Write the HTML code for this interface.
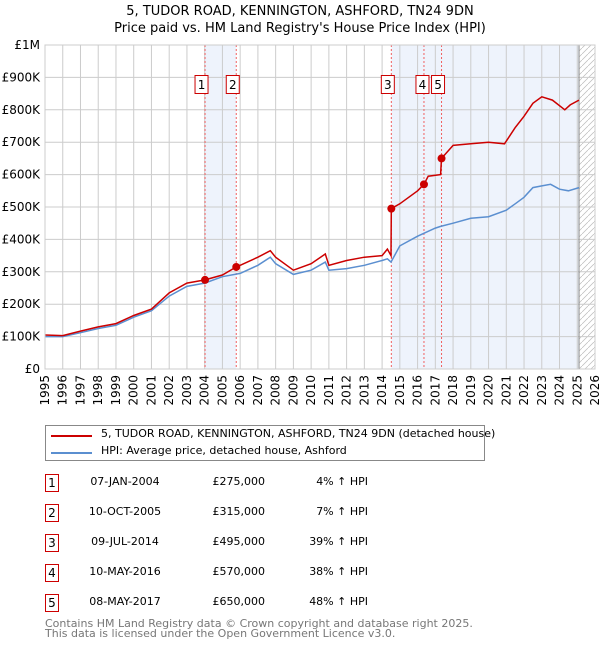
<!DOCTYPE html>
<html><head><meta charset="utf-8"><style>
body{margin:0;background:#fff;font-family:"DejaVu Sans","Liberation Sans",sans-serif;}
#w{position:relative;width:600px;height:650px;overflow:hidden}
.t{position:absolute;font-size:12px;color:#000;white-space:nowrap}
.box{position:absolute;width:14px;height:18px;border:1px solid #c00;box-sizing:border-box;font-size:12px;text-align:center;line-height:16px}
</style></head><body><div id="w">
<div class="t" style="left:0;width:600px;text-align:center;top:4px;font-size:13px">5, TUDOR ROAD, KENNINGTON, ASHFORD, TN24 9DN</div>
<div class="t" style="left:0;width:600px;text-align:center;top:21px;font-size:13px">Price paid vs. HM Land Registry's House Price Index (HPI)</div>
<svg id="c" width="600" height="420" style="position:absolute;left:0;top:0"></svg>
<div style="position:absolute;left:45px;top:425px;width:440px;height:36px;border:1px solid #888;box-sizing:border-box">
<div style="position:absolute;left:5px;top:9px;width:41px;height:2px;background:#c00"></div>
<div class="t" style="left:55px;top:1px;font-size:11px">5, TUDOR ROAD, KENNINGTON, ASHFORD, TN24 9DN (detached house)</div>
<div style="position:absolute;left:5px;top:26px;width:41px;height:2px;background:#5b8fd0"></div>
<div class="t" style="left:55px;top:18px;font-size:11px">HPI: Average price, detached house, Ashford</div>
</div>
<div id="tbl"></div>
<div class="t" style="left:45px;top:619px;color:#777;font-size:11px;line-height:10px">Contains HM Land Registry data © Crown copyright and database right 2025.<br>This data is licensed under the Open Government Licence v3.0.</div>
</div>
<script>
const hpiT=[1995,1996,1997,1998,1999,2000,2001,2002,2003,2004,2005,2006,2007,2007.7,2008,2009,2010,2010.8,2011,2012,2013,2014,2014.3,2014.5,2015,2016,2017,2017.3,2018,2019,2020,2021,2021.5,2022,2022.5,2023,2023.5,2024,2024.5,2025.1];
const hpiV=[100,100,112,125,135,160,180,225,255,265,285,295,320,345,325,292,305,330,305,310,320,335,340,330,380,410,435,440,450,465,470,490,510,530,560,565,570,555,550,560];
const redT=[1995,1996,1997,1998,1999,2000,2001,2002,2003,2004.02,2005,2005.78,2006,2007,2007.7,2008,2009,2010,2010.8,2011,2012,2013,2014,2014.3,2014.5,2014.52,2015,2016,2016.36,2016.6,2017.3,2017.35,2018,2019,2020,2020.9,2021.5,2022,2022.5,2023,2023.6,2024.3,2024.6,2025.1];
const redV=[105,103,117,130,140,165,185,235,265,275,290,315,320,345,365,345,305,325,355,320,335,345,350,370,350,495,510,550,570,595,600,650,690,695,700,695,745,780,820,840,830,800,815,830];
const saleT=[2004.02,2005.78,2014.52,2016.36,2017.35];
const saleV=[275,315,495,570,650];
const saleLbl=["1","2","3","4","5"];
const saleDate=["07-JAN-2004","10-OCT-2005","09-JUL-2014","10-MAY-2016","08-MAY-2017"];
const salePrice=["£275,000","£315,000","£495,000","£570,000","£650,000"];
const saleHpi=["4% ↑ HPI","7% ↑ HPI","39% ↑ HPI","38% ↑ HPI","48% ↑ HPI"];
const yTicks=[0,100,200,300,400,500,600,700,800,900,1000];
const yLbl=["£0","£100K","£200K","£300K","£400K","£500K","£600K","£700K","£800K","£900K","£1M"];
const xTicks=[];for(let y=1995;y<=2026;y++)xTicks.push(y);
const X0=45,X1=595,Y0=369,Y1=45;
const sx=t=>X0+(t-1995)/(2026-1995)*(X1-X0);
const sy=v=>Y0-v/1000*(Y0-Y1);
const s=document.getElementById('c');const NS='http://www.w3.org/2000/svg';
function el(tag,a,p){const e=document.createElementNS(NS,tag);for(const k in a)e.setAttribute(k,a[k]);(p||s).appendChild(e);return e;}
let e;
e=el('rect',{x:sx(saleT[0]),y:Y1,width:sx(saleT[1])-sx(saleT[0]),height:Y0-Y1,fill:'#eef3fc'});


e=el('rect',{x:sx(saleT[2]),y:Y1,width:sx(2025.1)-sx(saleT[2]),height:Y0-Y1,fill:'#eef3fc'});


const defs=el('defs',{});const pat=el('pattern',{id:'h',width:6,height:6,patternUnits:'userSpaceOnUse'},defs);
el('path',{d:'M0,6 L6,0',stroke:'#bbb','stroke-width':0.7},pat);
e=el('rect',{x:sx(2025.1),y:Y1,width:X1-sx(2025.1),height:Y0-Y1,fill:'url(#h)'});


xTicks.forEach((t,i)=>{el('line',{x1:sx(t),x2:sx(t),y1:Y1,y2:Y0,stroke:'#ccc'});
 const tx=el('text',{x:0,y:0,'text-anchor':'end','font-size':12,'font-family':'DejaVu Sans,sans-serif',transform:`translate(${sx(t)+4},375) rotate(-90)`});tx.textContent=t;
 
 });
yTicks.forEach((v,i)=>{el('line',{x1:X0,x2:X1,y1:sy(v),y2:sy(v),stroke:'#ccc'});
 const tx=el('text',{x:40,y:sy(v)+4,'text-anchor':'end','font-size':12,'font-family':'DejaVu Sans,sans-serif'});tx.textContent=yLbl[i];
 
 });
el('line',{x1:sx(2025.1),x2:sx(2025.1),y1:Y1,y2:Y0,stroke:'#888'});
saleT.forEach((t,i)=>{e=el('line',{x1:sx(t),x2:sx(t),y1:Y1,y2:Y0,stroke:'#f06060','stroke-dasharray':'2,2'});
 
 });
const pts=(T,V)=>T.map((t,i)=>sx(t).toFixed(1)+','+sy(V[i]).toFixed(1)).join(' ');
e=el('polyline',{points:pts(hpiT,hpiV),fill:'none',stroke:'#5b8fd0','stroke-width':1.5});


e=el('polyline',{points:pts(redT,redV),fill:'none',stroke:'#c00','stroke-width':1.5});


saleT.forEach((t,i)=>{e=el('circle',{cx:sx(t),cy:sy(saleV[i]),r:4,fill:'#c00'});
 
 
 const off=(i==3)?-8:-10;
 const g=el('g',{});
 
 el('rect',{x:sx(t)+off,y:75.5,width:13,height:18,fill:'#fff',stroke:'#c00'},g);
 const tx=el('text',{x:sx(t)+off+6.5,y:89,'text-anchor':'middle','font-size':12,'font-family':'DejaVu Sans,sans-serif'},g);tx.textContent=saleLbl[i];});
el('rect',{x:X0,y:Y1,width:X1-X0,height:Y0-Y1,fill:'none',stroke:'#ccc'});
const tb=document.getElementById('tbl');
saleT.forEach((t,i)=>{const y=474+i*30;
 tb.insertAdjacentHTML('beforeend',`<div class="box" style="left:45px;top:${y}px">${saleLbl[i]}</div>
 <div class="t" style="left:70px;width:110px;text-align:center;top:${y+1}px;font-size:11px">${saleDate[i]}</div>
 <div class="t" style="left:180px;width:85px;text-align:right;top:${y+1}px;font-size:11px">${salePrice[i]}</div>
 <div class="t" style="left:280px;width:88px;text-align:right;top:${y+1}px;font-size:11px">${saleHpi[i]}</div>`);});
</script></body></html>
